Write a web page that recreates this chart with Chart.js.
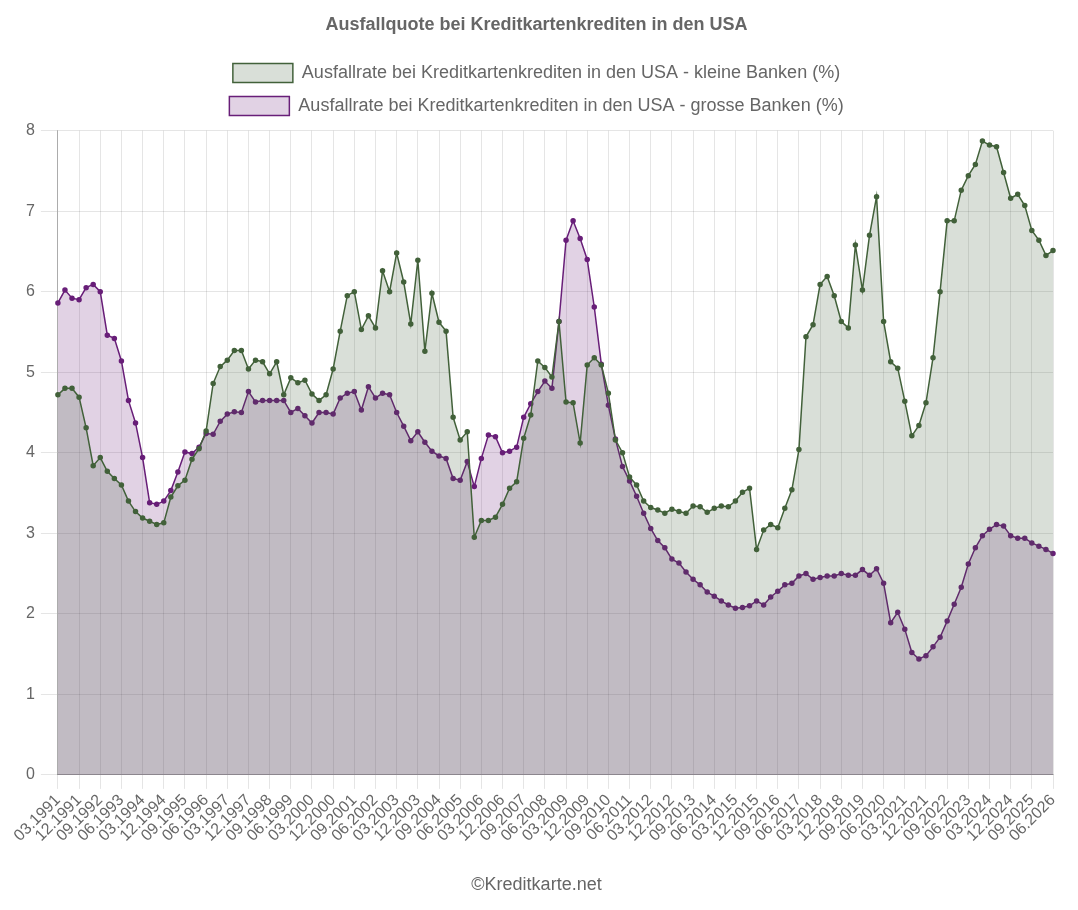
<!DOCTYPE html>
<html>
    <head>
        <meta charset="utf-8">
        <title>Ausfallquote Kreditkarten USA</title>
        <script src="https://cdn.jsdelivr.net/npm/chart.js@4.4.0/dist/chart.umd.min.js"></script>
        <style>
            body { margin: 0; background: #fff; }
            #wrap { position: relative; width: 1078px; height: 910px; }
        </style>
    </head>
    <body>
        <div id="wrap">
            <canvas id="myChart"></canvas>
        </div>

        <script>
            // Quartalswerte 03.1991 - 06.2026
            const firstYear = 1991;
            const quarterMonths = ['03', '06', '09', '12'];

            const smallBanks = [
                4.72, 4.80, 4.80, 4.69, 4.31, 3.84, 3.94, 3.77, 3.68, 3.60, 3.40, 3.27, 3.19, 3.15, 3.11, 3.13, 3.45, 3.59, 3.66, 3.92, 4.05, 4.27, 4.86, 5.07, 5.15,
                5.27, 5.27, 5.04, 5.15, 5.13, 4.98, 5.13, 4.72, 4.93, 4.87, 4.90, 4.73, 4.65, 4.72, 5.04, 5.51, 5.95, 6.00, 5.53, 5.70, 5.55, 6.26, 6.00, 6.48,
                6.12, 5.60, 6.39, 5.26, 5.98, 5.62, 5.51, 4.44, 4.16, 4.26, 2.95, 3.16, 3.16, 3.20, 3.36, 3.56, 3.64, 4.18, 4.47, 5.14, 5.06, 4.94, 5.63, 4.63,
                4.62, 4.12, 5.09, 5.18, 5.09, 4.74, 4.16, 4.00, 3.70, 3.60, 3.40, 3.32, 3.29, 3.25, 3.30, 3.27, 3.25, 3.34, 3.33, 3.26, 3.31, 3.34, 3.33, 3.40,
                3.51, 3.56, 2.80, 3.04, 3.11, 3.07, 3.31, 3.54, 4.04, 5.44, 5.59, 6.09, 6.19, 5.95, 5.63, 5.55, 6.58, 6.02, 6.70, 7.18, 5.63, 5.13, 5.05, 4.64,
                4.21, 4.34, 4.62, 5.18, 6.00, 6.88, 6.88, 7.26, 7.44, 7.58, 7.87, 7.82, 7.80, 7.48, 7.16, 7.21, 7.07, 6.76, 6.64, 6.45, 6.51
            ];

            const largeBanks = [
                5.86, 6.02, 5.92, 5.90, 6.05, 6.09, 6.00, 5.46, 5.42, 5.14, 4.65, 4.37, 3.94, 3.38, 3.36, 3.40, 3.53, 3.76, 4.01, 3.99, 4.07, 4.24, 4.23, 4.39, 4.48,
                4.51, 4.50, 4.76, 4.63, 4.65, 4.65, 4.65, 4.65, 4.50, 4.55, 4.46, 4.37, 4.50, 4.50, 4.48, 4.68, 4.74, 4.76, 4.53, 4.82, 4.68, 4.74, 4.72, 4.50,
                4.33, 4.15, 4.26, 4.13, 4.02, 3.96, 3.93, 3.68, 3.66, 3.89, 3.58, 3.93, 4.22, 4.20, 4.00, 4.02, 4.07, 4.44, 4.61, 4.76, 4.89, 4.80, 5.63, 6.64,
                6.88, 6.66, 6.40, 5.81, 5.10, 4.59, 4.17, 3.83, 3.65, 3.46, 3.25, 3.06, 2.91, 2.82, 2.68, 2.63, 2.52, 2.43, 2.36, 2.27, 2.22, 2.16, 2.11, 2.07,
                2.08, 2.10, 2.16, 2.11, 2.21, 2.28, 2.36, 2.38, 2.47, 2.50, 2.43, 2.45, 2.47, 2.47, 2.50, 2.48, 2.48, 2.55, 2.48, 2.56, 2.38, 1.89, 2.02, 1.81,
                1.52, 1.44, 1.48, 1.59, 1.71, 1.91, 2.12, 2.33, 2.62, 2.82, 2.97, 3.05, 3.11, 3.09, 2.97, 2.94, 2.94, 2.88, 2.84, 2.80, 2.75
            ];

            // Quartalslabels "MM.JJJJ"
            let labels = [];
            for (let y = firstYear; labels.length < smallBanks.length; y++) {
                for (let m of quarterMonths) {
                    if (labels.length < smallBanks.length) labels.push(m + '.' + y);
                }
            }

            const green = 'rgb(66, 97, 58)';
            const purple = 'rgb(104, 30, 120)';
            const textColor = '#666';
            const fontFamily = "'Liberation Sans', Arial, Helvetica, sans-serif";

            Chart.defaults.font.family = fontFamily;
            Chart.defaults.color = textColor;

            // etwas mehr Abstand unter der Legende
            const legendGap = {
                id: 'legendGap',
                beforeInit(chart) {
                    const origFit = chart.legend.fit;
                    chart.legend.fit = function () {
                        origFit.bind(chart.legend)();
                        this.height += 5;
                    };
                }
            };

            let ctx = document.getElementById('myChart').getContext('2d');
            let chart = new Chart(ctx, {
                type: 'line',
                data: {
                    labels: labels,
                    datasets: [{
                        label: 'Ausfallrate bei Kreditkartenkrediten in den USA - kleine Banken (%)',
                        data: smallBanks,
                        borderColor: green,
                        backgroundColor: 'rgba(66, 97, 58, 0.2)',
                        pointBackgroundColor: green,
                        pointBorderColor: green,
                        borderWidth: 1.5,
                        pointRadius: 2,
                        fill: 'origin',
                        tension: 0
                    }, {
                        label: 'Ausfallrate bei Kreditkartenkrediten in den USA - grosse Banken (%)',
                        data: largeBanks,
                        borderColor: purple,
                        backgroundColor: 'rgba(104, 30, 120, 0.2)',
                        pointBackgroundColor: purple,
                        pointBorderColor: purple,
                        borderWidth: 1.5,
                        pointRadius: 2,
                        fill: 'origin',
                        tension: 0
                    }]
                },
                plugins: [legendGap],
                options: {
                    responsive: true,
                    maintainAspectRatio: false,
                    animation: false,
                    layout: { padding: { top: 4, left: 20, right: 25, bottom: 8 } },
                    plugins: {
                        title: {
                            display: true,
                            text: 'Ausfallquote bei Kreditkartenkrediten in den USA',
                            font: { size: 18, weight: 'bold' },
                            color: textColor,
                            padding: { top: 10, bottom: 14 }
                        },
                        subtitle: {
                            display: true,
                            position: 'bottom',
                            text: '©Kreditkarte.net',
                            font: { size: 18 },
                            color: textColor,
                            padding: { top: 27, bottom: 6 }
                        },
                        legend: {
                            labels: {
                                boxWidth: 60,
                                boxHeight: 19,
                                padding: 14,
                                font: { size: 18 },
                                color: textColor
                            }
                        },
                        tooltip: { enabled: false }
                    },
                    scales: {
                        x: {
                            ticks: {
                                autoSkip: false,
                                maxRotation: 45,
                                minRotation: 45,
                                font: { size: 16 },
                                padding: 2,
                                callback: function (val, index) {
                                    return index % 3 === 0 ? this.getLabelForValue(val) : '';
                                }
                            },
                            grid: {
                                tickLength: 14,
                                color: (c) => (c.index % 3 === 0 ? 'rgba(0,0,0,0.1)' : 'rgba(0,0,0,0)')
                            },
                            border: { color: 'rgba(0,0,0,0.25)' }
                        },
                        y: {
                            min: 0,
                            max: 8,
                            ticks: { stepSize: 1, font: { size: 16 }, padding: 6 },
                            grid: { color: 'rgba(0,0,0,0.1)', tickLength: 17 },
                            border: { color: 'rgba(0,0,0,0.25)' }
                        }
                    }
                }
            });
        </script>
    </body>
</html>
